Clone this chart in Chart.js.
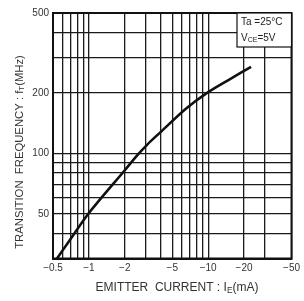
<!DOCTYPE html>
<html>
<head>
<meta charset="utf-8">
<script src="https://cdn.jsdelivr.net/npm/chart.js@4.4.1/dist/chart.umd.min.js"></script>
<style>
html,body{margin:0;padding:0;background:#fff;}
#wrap{width:304px;height:301px;position:relative;}
</style>
</head>
<body>
<div id="wrap"><canvas id="c" width="304" height="301"></canvas></div>
<script>
// Emitter current magnitude (mA), shown as negative values on the axis
const emitterCurrent = [0.54, 0.7, 1.0, 2.0, 2.55, 3.1, 3.95, 6.5, 10.0, 15.5, 22.9];
// Transition frequency fT (MHz)
const transitionFreq = [30, 37.4, 50.5, 82.5, 98, 111, 127, 167, 202, 236, 270];

const xGrid = [0.5,0.6,0.7,0.8,0.9,1,2,3,4,5,6,7,8,9,10,20,30,50];
const xLabels = [0.5,1,2,5,10,20,50];
const yGrid = [30,40,50,60,70,80,90,100,200,300,400,500];
const yLabels = [50,100,200,500];
const condText = ['Ta =25°C', 'V', 'CE', '=5V'];

const points = emitterCurrent.map((v,i)=>({x:v, y:transitionFreq[i]}));
const FONT = 'Liberation Sans, Arial, sans-serif';

function drawRich(ctx, parts, x, y, size) {
  let w = 0;
  parts.forEach(p => {
    ctx.font = (p.sub ? size*0.7 : size) + 'px ' + FONT;
    w += ctx.measureText(p.t).width;
  });
  let cx = x - w/2;
  parts.forEach(p => {
    ctx.font = (p.sub ? size*0.7 : size) + 'px ' + FONT;
    ctx.fillText(p.t, cx, y + (p.sub ? size*0.2 : 0));
    cx += ctx.measureText(p.t).width;
  });
}

const overlay = {
  id: 'overlay',
  afterDraw(chart) {
    const ctx = chart.ctx;
    const a = chart.chartArea;
    ctx.save();
    ctx.strokeStyle = '#111';
    ctx.lineWidth = 2;
    ctx.strokeRect(a.left, a.top, a.right - a.left, a.bottom - a.top);
    const bx = 237, by = a.top, bw = a.right - 237, bh = 47 - a.top;
    ctx.fillStyle = '#fff';
    ctx.fillRect(bx, by, bw, bh);
    ctx.lineWidth = 1.2;
    ctx.strokeRect(bx, by, bw, bh);
    ctx.fillStyle = '#222';
    ctx.textBaseline = 'middle';
    ctx.textAlign = 'left';
    ctx.font = '10px ' + FONT;
    ctx.fillText(condText[0], 241, 22);
    let cx = 241;
    ctx.fillText(condText[1], cx, 38); cx += ctx.measureText(condText[1]).width;
    ctx.font = '7px ' + FONT;
    ctx.fillText(condText[2], cx, 40); cx += ctx.measureText(condText[2]).width;
    ctx.font = '10px ' + FONT;
    ctx.fillText(condText[3], cx, 38);
    ctx.fillStyle = '#333';
    drawRich(ctx, [{t:'EMITTER  CURRENT : I'},{t:'E',sub:true},{t:'(mA)'}], 177, 288, 12);
    ctx.translate(20, 152);
    ctx.rotate(-Math.PI/2);
    drawRich(ctx, [{t:'TRANSITION  FREQUENCY : f'},{t:'T',sub:true},{t:'(MHz)'}], 0, 0, 11.3);
    ctx.restore();
  }
};

new Chart(document.getElementById('c'), {
  type: 'scatter',
  data: {
    datasets: [{
      data: points,
      showLine: true,
      borderColor: '#111',
      borderWidth: 2.6,
      pointRadius: 0,
      tension: 0.3,
      fill: false
    }]
  },
  options: {
    responsive: false,
    animation: false,
    devicePixelRatio: 1,
    layout: { padding: { left: 0, right: 5, top: 13, bottom: 0 } },
    plugins: { legend: { display: false }, tooltip: { enabled: false } },
    scales: {
      x: {
        type: 'logarithmic',
        min: 0.5, max: 50,
        afterBuildTicks: s => { s.ticks = xGrid.map(v => ({value: v})); },
        afterFit: s => { s.height = 42.5; },
        ticks: {
          autoSkip: false, maxRotation: 0, padding: 4,
          color: '#333', font: { family: FONT, size: 10 },
          callback: v => xLabels.includes(v) ? '\u2212' + v : ''
        },
        grid: { color: '#1a1a1a', lineWidth: 1.3, drawTicks: false },
        border: { display: true, color: '#111', width: 2 }
      },
      y: {
        type: 'logarithmic',
        min: 30, max: 500,
        afterBuildTicks: s => { s.ticks = yGrid.map(v => ({value: v})); },
        afterFit: s => { s.width = 53; },
        ticks: {
          autoSkip: false, padding: 4,
          color: '#333', font: { family: FONT, size: 10 },
          callback: v => yLabels.includes(v) ? String(v) : ''
        },
        grid: { color: '#1a1a1a', lineWidth: 1.3, drawTicks: false },
        border: { display: true, color: '#111', width: 2 }
      }
    }
  },
  plugins: [overlay]
});
</script>
</body>
</html>
